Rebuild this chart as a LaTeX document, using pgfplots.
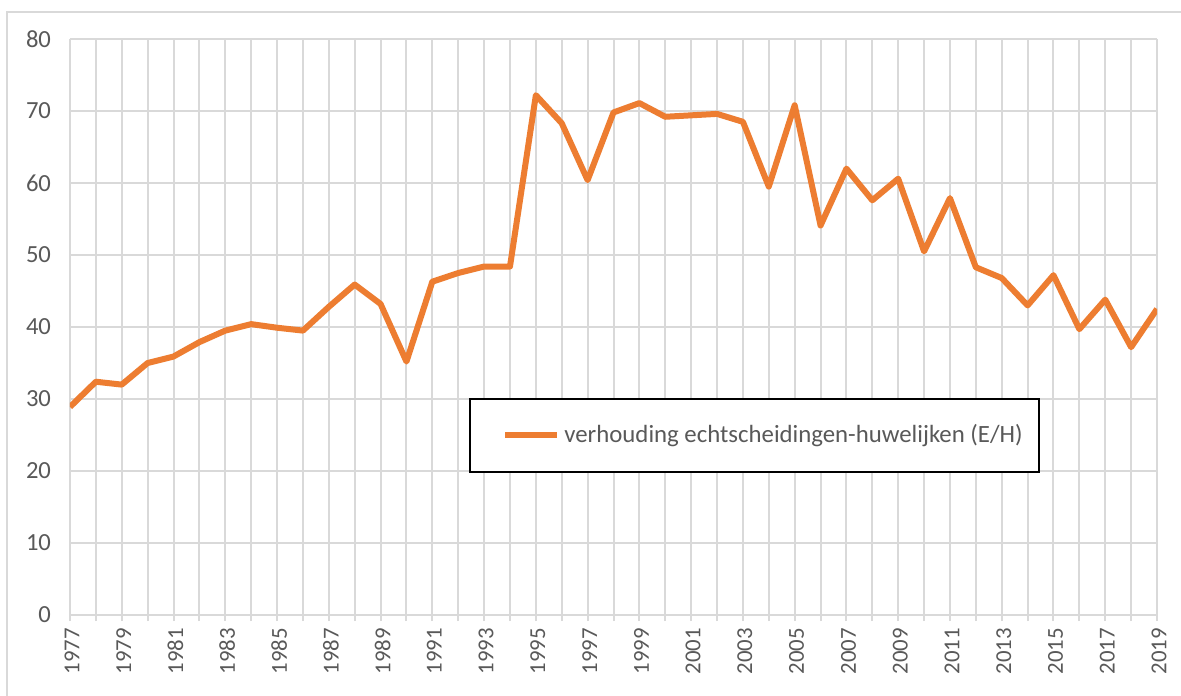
\documentclass[border=0pt]{standalone}
\usepackage{fontspec}
\setmainfont{Carlito}
\usepackage{pgfplots}
\pgfplotsset{compat=1.18}
\definecolor{orangeline}{HTML}{ED7D31}
\definecolor{gridgray}{HTML}{D9D9D9}
\definecolor{txtgray}{HTML}{595959}
\begin{document}
\begin{tikzpicture}
\path[use as bounding box] (-35pt,-40pt) rectangle (555.5pt,307.5pt);
\fill[white] (-35pt,-40pt) rectangle (555.5pt,307.5pt);
\draw[gridgray, line width=1pt] (-31.5pt,-45pt) -- (-31.5pt,301.5pt) -- (560pt,301.5pt);
\begin{axis}[
  at={(0pt,0pt)}, anchor=south west,
  scale only axis, width=543.5pt, height=288pt,
  xmin=1977, xmax=2019, ymin=0, ymax=80,
  xtick={1977,1979,...,2019},
  minor xtick={1978,1980,...,2018},
  ytick={0,10,...,80},
  grid=both,
  major grid style={gridgray, line width=1pt},
  minor grid style={gridgray, line width=1pt},
  axis x line*=bottom, axis y line*=left,
  x axis line style={gridgray, line width=1pt, -},
  y axis line style={draw=none},
  tick align=outside,
  xtick style={gridgray, line width=1pt},
  minor tick style={gridgray, line width=1pt},
  major tick length=3pt, minor tick length=3pt,
  ytick style={draw=none},
  x tick label style={rotate=90, anchor=east, font=\fontsize{11.4}{13}\selectfont, text=txtgray, yshift=-1pt},
  y tick label style={font=\fontsize{12.3}{14}\selectfont, text=txtgray, xshift=-3pt},
  xticklabel={\pgfmathprintnumber[1000 sep={},fixed]{\tick}},
  /pgf/number format/assume math mode=true,
  legend style={at={(axis cs:2003.45,24.95)}, anchor=center, draw=black, line width=1pt,
    inner xsep=6pt, inner ysep=11pt, font=\fontsize{12.4}{14}\selectfont, text=txtgray},
  legend image code/.code={\path (-10pt,0pt); \draw[orangeline, line width=3pt] (0pt,0pt) -- (26pt,0pt);},
  legend cell align=left,
]
\addplot[orangeline, line width=3pt, line join=round] coordinates {
(1977,28.9) (1978,32.4) (1979,32.0) (1980,35.0) (1981,35.9) (1982,37.9)
(1983,39.5) (1984,40.4) (1985,39.9) (1986,39.5) (1987,42.8) (1988,45.9)
(1989,43.2) (1990,35.2) (1991,46.3) (1992,47.5) (1993,48.4) (1994,48.4)
(1995,72.2) (1996,68.3) (1997,60.4) (1998,69.8) (1999,71.1) (2000,69.2)
(2001,69.4) (2002,69.6) (2003,68.5) (2004,59.5) (2005,70.8) (2006,54.1)
(2007,62.0) (2008,57.6) (2009,60.6) (2010,50.5) (2011,57.9) (2012,48.3)
(2013,46.8) (2014,43.0) (2015,47.2) (2016,39.7) (2017,43.8) (2018,37.2)
(2019,42.5)
};
\addlegendentry{verhouding echtscheidingen-huwelijken (E/H)}
\end{axis}
\end{tikzpicture}
\end{document}
